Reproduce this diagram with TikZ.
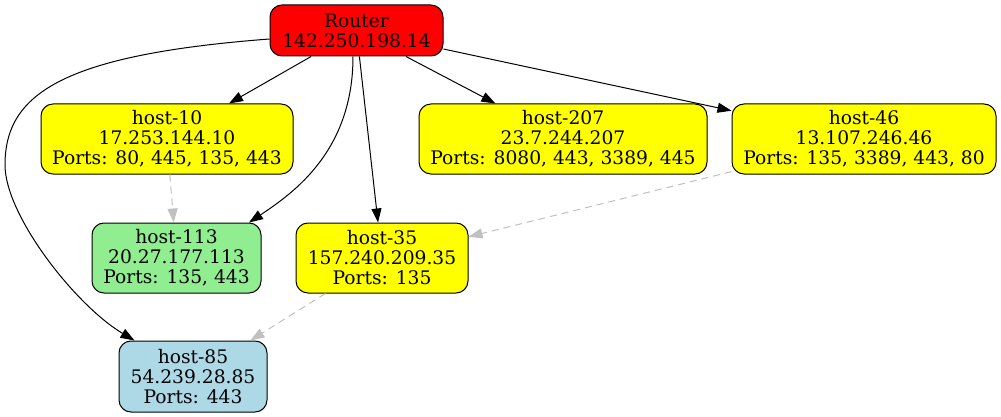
\documentclass[tikz,border=0pt]{standalone}
\usepackage{fontspec}
\setmainfont{DejaVu Serif}
\usepackage{xcolor}
\usepackage{tikz}
\usetikzlibrary{arrows.meta}

\definecolor{hostred}{HTML}{FF0000}
\definecolor{hostyellow}{HTML}{FFFF00}
\definecolor{hostgreen}{HTML}{90EE90}
\definecolor{hostblue}{HTML}{ADD8E6}
\definecolor{scangray}{HTML}{C0C0C0}

\begin{document}
\begin{tikzpicture}[x=1pt, y=-1pt,
  every node/.style={font=\fontsize{18.67}{20}\selectfont, align=center},
  hostbox/.style={draw=black, line width=1pt, rounded corners=12pt,
                  inner sep=0pt, minimum height=70pt},
  link/.style={black, line width=1pt, -{Triangle[length=14pt, width=10pt]}},
  scanlink/.style={scangray, line width=1pt, dash pattern=on 7pt off 5pt,
                   -{Triangle[length=14pt, width=10pt]}}]

%% ── Canvas: 1pt = 1px, y grows downwards ─────────────────────────────────────
\useasboundingbox (0,0) rectangle (1001,417);

%% ── Gateway ──────────────────────────────────────────────────────────────────
\node[hostbox, fill=hostred, minimum width=173pt, minimum height=51pt]
  (router) at (356.5, 30.5) {Router\\142.250.198.14};

%% ── First row of hosts ───────────────────────────────────────────────────────
\node[hostbox, fill=hostyellow, minimum width=252pt] (host10) at (167, 139)
  {host-10\\17.253.144.10\\Ports: 80, 445, 135, 443};
\node[hostbox, fill=hostyellow, minimum width=288pt] (host207) at (563, 139)
  {host-207\\23.7.244.207\\Ports: 8080, 443, 3389, 445};
\node[hostbox, fill=hostyellow, minimum width=264pt] (host46) at (864, 139)
  {host-46\\13.107.246.46\\Ports: 135, 3389, 443, 80};

%% ── Second row ───────────────────────────────────────────────────────────────
\node[hostbox, fill=hostgreen, minimum width=169pt] (host113) at (176.5, 258)
  {host-113\\20.27.177.113\\Ports: 135, 443};
\node[hostbox, fill=hostyellow, minimum width=172pt] (host35) at (382, 258)
  {host-35\\157.240.209.35\\Ports: 135};

%% ── Third row ────────────────────────────────────────────────────────────────
\node[hostbox, fill=hostblue, minimum width=148pt, minimum height=71pt]
  (host85) at (193, 376.5) {host-85\\54.239.28.85\\Ports: 443};

%% ── Router links ─────────────────────────────────────────────────────────────
\draw[link] (router) -- (host10);
\draw[link] (router) -- (host207);
\draw[link] (router) -- (host46);
\draw[link] (router) -- (host35);
\draw[link] ([xshift=-3.5pt]router.south)
  .. controls (353, 150) and (295, 192) .. ([xshift=72.5pt]host113.north);
\draw[link] ([yshift=-8.5pt]router.west)
  .. controls (60, 55) and (5, 95) .. (5, 165)
  .. controls (5, 215) and (75, 305) .. ([xshift=16pt]host85.north west);

%% ── Lateral (dashed) links ───────────────────────────────────────────────────
\draw[scanlink] (host10) -- (host113);
\draw[scanlink] (host46) -- (host35);
\draw[scanlink] (host35) -- (host85);

\end{tikzpicture}
\end{document}
